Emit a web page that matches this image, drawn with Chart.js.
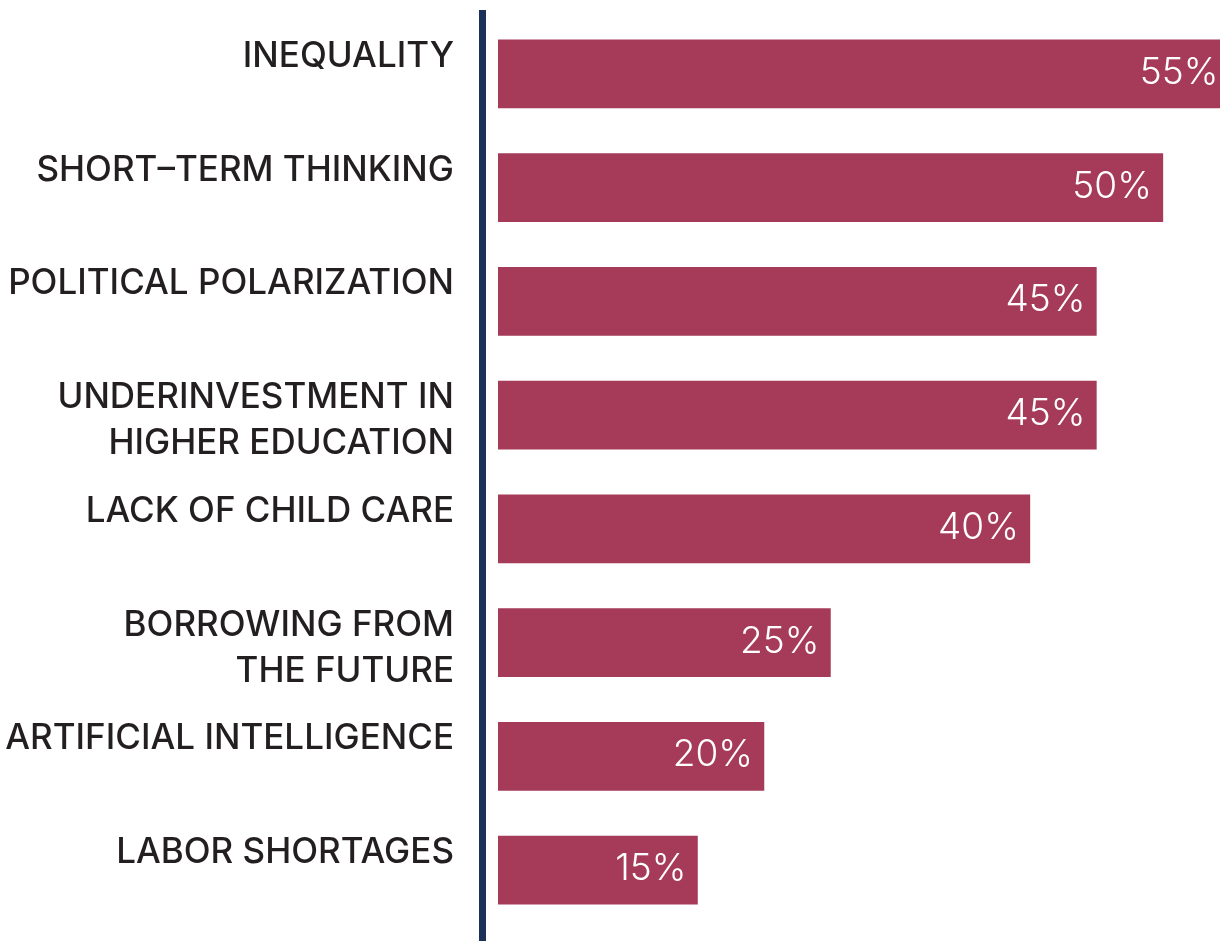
<!DOCTYPE html>
<html>
<head>
<meta charset="utf-8">
<script src="https://cdn.jsdelivr.net/npm/chart.js@4.4.0/dist/chart.umd.min.js"></script>
<style>
  html, body { margin: 0; padding: 0; background: #ffffff; }
  #wrap { width: 1220px; height: 941px; position: relative; }
</style>
</head>
<body>
<div id="wrap"><canvas id="c" width="1220" height="941"></canvas></div>
<script>
const categories = [
  ["INEQUALITY"],
  ["SHORT\u2013TERM THINKING"],
  ["POLITICAL POLARIZATION"],
  ["UNDERINVESTMENT IN", "HIGHER EDUCATION"],
  ["LACK OF CHILD CARE"],
  ["BORROWING FROM", "THE FUTURE"],
  ["ARTIFICIAL INTELLIGENCE"],
  ["LABOR SHORTAGES"]
];
const values = [55, 50, 45, 45, 40, 25, 20, 15];
const valueLabels = ["55%", "50%", "45%", "45%", "40%", "25%", "20%", "15%"];

const BAR_COLOR = "#a63b59";
const LINE_COLOR = "#1b3158";
const TEXT_COLOR = "#231f20";

const labelsPlugin = {
  id: "customLabels",
  afterDatasetsDraw(chart) {
    const ctx = chart.ctx;
    const meta = chart.getDatasetMeta(0);
    const xScale = chart.scales.x;
    const zeroX = xScale.getPixelForValue(0);
    ctx.save();
    // vertical axis line
    ctx.fillStyle = LINE_COLOR;
    ctx.fillRect(zeroX - 19, 10, 7, chart.height - 10);
    meta.data.forEach((bar, i) => {
      const top = bar.y - bar.height / 2;
      // category labels
      ctx.fillStyle = TEXT_COLOR;
      ctx.font = "500 35px Inter, 'Liberation Sans', sans-serif";
      ctx.textAlign = "right";
      ctx.textBaseline = "alphabetic";
      categories[i].forEach((line, j) => {
        ctx.fillText(line, zeroX - 44, top + 27 + j * 46);
      });
      // value labels
      ctx.fillStyle = "#ffffff";
      ctx.font = "300 37px Inter, 'Liberation Sans', sans-serif";
      ctx.fillText(valueLabels[i], bar.x - 11, bar.y + 10);
    });
    ctx.restore();
  }
};

new Chart(document.getElementById("c"), {
  type: "bar",
  data: {
    labels: categories,
    datasets: [{
      data: values,
      backgroundColor: BAR_COLOR,
      borderWidth: 0,
      barThickness: 68
    }]
  },
  options: {
    indexAxis: "y",
    responsive: false,
    animation: false,
    maintainAspectRatio: false,
    layout: { padding: { left: 498, right: 0, top: 17, bottom: 14 } },
    plugins: { legend: { display: false }, tooltip: { enabled: false } },
    scales: {
      x: {
        min: 0, max: 54.3,
        display: false
      },
      y: {
        display: false,
        offset: true
      }
    }
  },
  plugins: [labelsPlugin]
});
</script>
</body>
</html>
